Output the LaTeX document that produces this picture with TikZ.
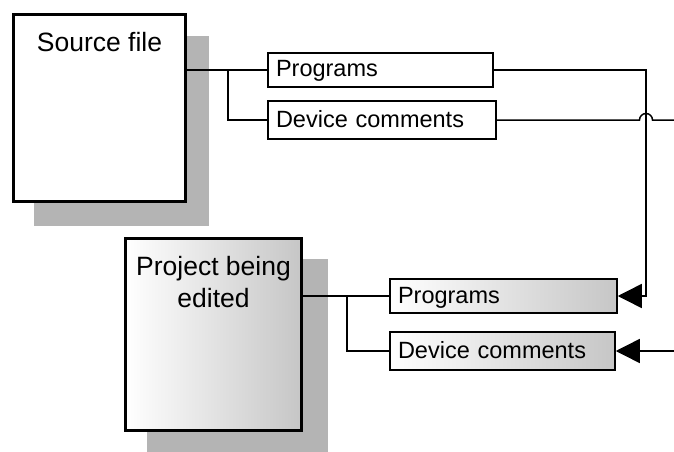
\documentclass[tikz,border=0pt]{standalone}
\usepackage{fontspec}
\setmainfont{Liberation Sans}
\usetikzlibrary{arrows.meta}
\definecolor{shadowgray}{RGB}{180,180,180}
\definecolor{endgray}{RGB}{198,198,198}
\begin{document}
\begin{tikzpicture}[x=1pt,y=-1pt,
  shadowbox/.style={fill=shadowgray, draw=none},
  bigbox/.style={draw=black, line width=3pt, inner sep=0pt},
  smallbox/.style={draw=black, line width=1.5pt, inner xsep=8pt, inner ysep=0pt, align=left,
    font=\fontsize{23.5}{26}\selectfont, text height=16pt, text depth=2pt},
  bigtext/.style={font=\fontsize{26.5}{32}\selectfont, align=center, inner sep=0pt},
  wire/.style={line width=1.5pt},
  arrowwire/.style={wire, -{Triangle[length=24pt,width=24pt]}},
  fadefill/.style={left color=white, right color=endgray}
]
\useasboundingbox (0,0) rectangle (674,452);
% shadows
\fill[shadowbox] (34,36) rectangle (209,226);
\fill[shadowbox] (147,259) rectangle (328,452);
% big boxes
\node[bigbox, fill=white, minimum width=172pt, minimum height=187pt] (src) at (99.5,108) {};
\node[bigtext, anchor=base] (srclbl) at ([yshift=-39pt]src.north) {Source file};
\node[bigbox, fadefill, minimum width=176pt, minimum height=192pt] (prj) at (213.5,334.5) {};
\node[bigtext, anchor=north] (prjlbl) at ([yshift=-19pt]prj.north) {Project being\\edited};
% small boxes
\node[smallbox, fill=white, minimum width=225pt, minimum height=34pt, text width=209pt] (p1) at (380.5,70) {Programs};
\node[smallbox, fill=white, minimum width=228pt, minimum height=38pt, text width=212pt] (d1) at (382,120) {Device comments};
\node[smallbox, fadefill, minimum width=227pt, minimum height=34pt, text width=211pt] (p2) at (503.5,296) {Programs};
\node[smallbox, fadefill, minimum width=225pt, minimum height=38pt, text width=209pt] (d2) at (502.5,351) {Device comments};
% coordinates
\coordinate (br1) at (228,70);
\coordinate (br2) at (347,296);
\coordinate (rx) at (646,0);
\coordinate (e1) at (674,120);
\coordinate (e2) at (674,351);
% wires
\draw[wire] (src.east |- p1.west) -- (p1.west);
\draw[wire] (br1) |- (d1.west);
\draw[arrowwire] (p1.east) -| (rx |- p2.east) -- (p2.east);
\draw[wire] (d1.east) -- ([xshift=-6.5pt]rx |- d1.east) arc[start angle=180, end angle=0, radius=6.5pt] -- (e1);
\draw[arrowwire] (e2) -- (d2.east);
\draw[wire] (prj.east |- p2.west) -- (p2.west);
\draw[wire] (br2) |- (d2.west);
\end{tikzpicture}
\end{document}
